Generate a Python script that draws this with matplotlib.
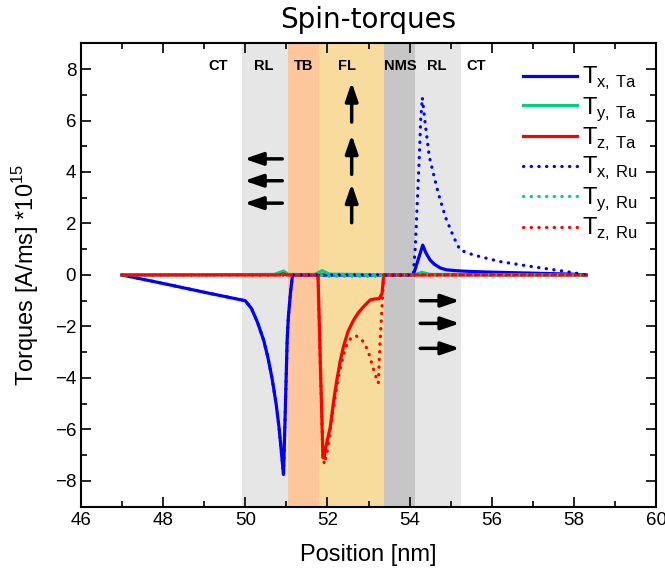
import matplotlib
matplotlib.use('Agg')
import matplotlib.pyplot as plt
from matplotlib.ticker import MultipleLocator

plt.rcParams['font.family'] = ['Liberation Sans', 'DejaVu Sans']
plt.rcParams['mathtext.fontset'] = 'custom'
plt.rcParams['mathtext.rm'] = 'Liberation Sans'

# layer boundaries [nm] and names
regions = [
    (49.93, 51.05, '#e6e6e6'),
    (51.05, 51.80, '#fec79b'),
    (51.80, 53.38, '#f8dc9d'),
    (53.38, 54.13, '#c6c6c6'),
    (54.13, 55.25, '#e6e6e6'),
]
region_names = ['CT', 'RL', 'TB', 'FL', 'NMS', 'RL', 'CT']
region_name_x = [49.34, 50.46, 51.41, 52.48, 53.77, 54.66, 55.63]

# Ta cap
tx_ta_x = [47.0, 48.0, 49.0, 50.0, 50.15, 50.3, 50.45, 50.55, 50.65, 50.75, 50.82, 50.88, 50.93,
           50.97, 51.02, 51.05, 51.1, 51.15, 52.0, 53.0, 54.0, 54.09, 54.2, 54.32, 54.4, 54.5,
           54.6, 54.75, 54.9, 55.1, 55.3, 55.6, 56.0, 56.5, 57.0, 57.5, 58.0, 58.3]
tx_ta_y = [0.0, -0.33, -0.67, -1.0, -1.3, -1.85, -2.55, -3.2, -4.0, -5.0, -5.9, -6.9, -7.75,
           -5.5, -2.5, -1.6, -0.7, 0.0, 0.0, 0.0, 0.0, 0.0, 0.55, 1.16, 0.85, 0.58,
           0.42, 0.27, 0.2, 0.17, 0.15, 0.13, 0.11, 0.09, 0.07, 0.05, 0.03, 0.0]

ty_ta_x = [47.0, 50.7, 50.93, 51.05, 51.7, 51.87, 52.05, 54.1, 54.3, 54.5, 58.3]
ty_ta_y = [0.0, 0.02, 0.15, 0.02, 0.02, 0.17, 0.03, 0.0, 0.1, 0.02, 0.0]

tz_ta_x = [47.0, 50.85, 50.93, 51.0, 51.77, 51.83, 51.89, 51.92, 51.97, 52.07, 52.15, 52.23, 52.31,
           52.39, 52.5, 52.64, 52.76, 52.88, 53.04, 53.15, 53.26, 53.33, 53.37, 54.0, 58.3]
tz_ta_y = [0.0, 0.0, 0.05, 0.0, 0.0, -3.6, -7.1, -7.1, -6.6, -5.9, -4.9, -4.07, -3.35,
           -2.78, -2.2, -1.74, -1.45, -1.23, -0.97, -0.93, -0.92, -0.71, 0.0, 0.0, 0.0]

# Ru cap
tx_ru_x = [47.0, 48.0, 49.0, 50.0, 50.15, 50.3, 50.45, 50.55, 50.65, 50.75, 50.82, 50.88, 50.93,
           50.97, 51.02, 51.05, 51.1, 51.15, 52.0, 53.0, 54.0, 54.09, 54.14, 54.19, 54.24, 54.27,
           54.31, 54.38, 54.48, 54.58, 54.70, 54.87, 55.07, 55.23, 55.55, 56.2, 57.0, 57.83, 58.31]
tx_ru_y = [0.0, -0.33, -0.67, -1.0, -1.3, -1.85, -2.55, -3.2, -4.0, -5.0, -5.9, -6.9, -7.75,
           -5.5, -2.5, -1.6, -0.7, 0.0, 0.0, 0.0, 0.0, 0.0, 1.1, 2.9, 4.7, 6.0,
           6.89, 5.88, 4.59, 3.94, 3.17, 2.26, 1.48, 0.97, 0.78, 0.52, 0.32, 0.13, 0.0]

ty_ru_x = [47.0, 51.8, 52.0, 53.3, 53.4, 54.1, 54.3, 54.5, 58.3]
ty_ru_y = [0.0, 0.0, -0.05, -0.05, 0.0, 0.0, 0.08, 0.0, 0.0]

tz_ru_x = [47.0, 51.77, 51.83, 51.89, 51.93, 52.0, 52.1, 52.2, 52.3, 52.4, 52.5, 52.6, 52.7,
           52.8, 52.9, 53.0, 53.1, 53.2, 53.24, 53.28, 53.33, 53.37, 58.3]
tz_ru_y = [0.0, 0.0, -3.6, -7.1, -7.35, -6.8, -5.7, -4.6, -3.7, -3.05, -2.6, -2.4, -2.37,
           -2.45, -2.65, -3.0, -3.55, -4.05, -4.2, -2.6, -1.2, 0.0, 0.0]

# magnetisation arrows: (x_tail, y_tail, x_head, y_head)
arrows = [
    (50.90, 4.51, 49.98, 4.51), (50.90, 3.66, 49.98, 3.66), (50.90, 2.79, 49.98, 2.79),
    (52.59, 5.94, 52.59, 7.48), (52.59, 3.91, 52.59, 5.44), (52.59, 2.03, 52.59, 3.54),
    (54.26, -1.0, 55.22, -1.0), (54.26, -1.88, 55.22, -1.88), (54.26, -2.85, 55.22, -2.85),
]

blue, green, red = '#0000ff', '#00d084', '#ff0000'
dots = (0, (0.1, 2.3))

fig = plt.figure(figsize=(6.65, 5.74), dpi=100)
ax = fig.add_axes([0.1218, 0.1173, 0.8647, 0.8073])

for x0, x1, c in regions:
    ax.axvspan(x0, x1, color=c, lw=0, zorder=0)
for name, xn in zip(region_names, region_name_x):
    ax.text(xn, 8.12, name, ha='center', va='center', fontsize=10.5, fontweight='bold')

lw = 2.3
ax.plot(tx_ta_x, tx_ta_y, color=blue, lw=lw, label=r'T$_{\mathrm{x,\,Ta}}$')
ax.plot(ty_ta_x, ty_ta_y, color=green, lw=lw, label=r'T$_{\mathrm{y,\,Ta}}$')
ax.plot(tz_ta_x, tz_ta_y, color=red, lw=lw, label=r'T$_{\mathrm{z,\,Ta}}$')
ax.plot(tx_ru_x, tx_ru_y, color=blue, lw=lw, ls=dots, dash_capstyle='round', label=r'T$_{\mathrm{x,\,Ru}}$')
ax.plot(ty_ru_x, ty_ru_y, color=green, lw=lw, ls=dots, dash_capstyle='round', label=r'T$_{\mathrm{y,\,Ru}}$')
ax.plot(tz_ru_x, tz_ru_y, color=red, lw=lw, ls=dots, dash_capstyle='round', label=r'T$_{\mathrm{z,\,Ru}}$')

for xt, yt, xh, yh in arrows:
    ax.annotate('', xy=(xh, yh), xytext=(xt, yt),
                arrowprops=dict(arrowstyle='-|>,head_length=1.1,head_width=0.38',
                                color='black', lw=2.5, shrinkA=0, shrinkB=0))

ax.set_xlim(46, 60)
ax.set_ylim(-9, 9)
ax.xaxis.set_major_locator(MultipleLocator(2))
ax.xaxis.set_minor_locator(MultipleLocator(1))
ax.yaxis.set_major_locator(MultipleLocator(2))
ax.yaxis.set_minor_locator(MultipleLocator(1))
ax.tick_params(which='both', direction='in', top=True, right=True, width=1.2, labelsize=13.5)
ax.tick_params(which='major', length=7)
ax.tick_params(which='minor', length=4)
for s in ax.spines.values():
    s.set_linewidth(1.5)

ax.set_xlabel('Position [nm]', fontsize=17, labelpad=11)
ax.set_ylabel('Torques [A/ms] *10$^{15}$', fontsize=17, labelpad=10)
ax.set_title('Spin-torques', fontsize=20, family='DejaVu Sans', pad=11)

ax.legend(loc='upper left', bbox_to_anchor=(523 / 665, 1 - 65 / 574), bbox_transform=fig.transFigure,
          frameon=False, fontsize=17, handlelength=2.3, handletextpad=0.2, labelspacing=0.12,
          borderpad=0, borderaxespad=0)

fig.savefig('out.png', dpi=100)
